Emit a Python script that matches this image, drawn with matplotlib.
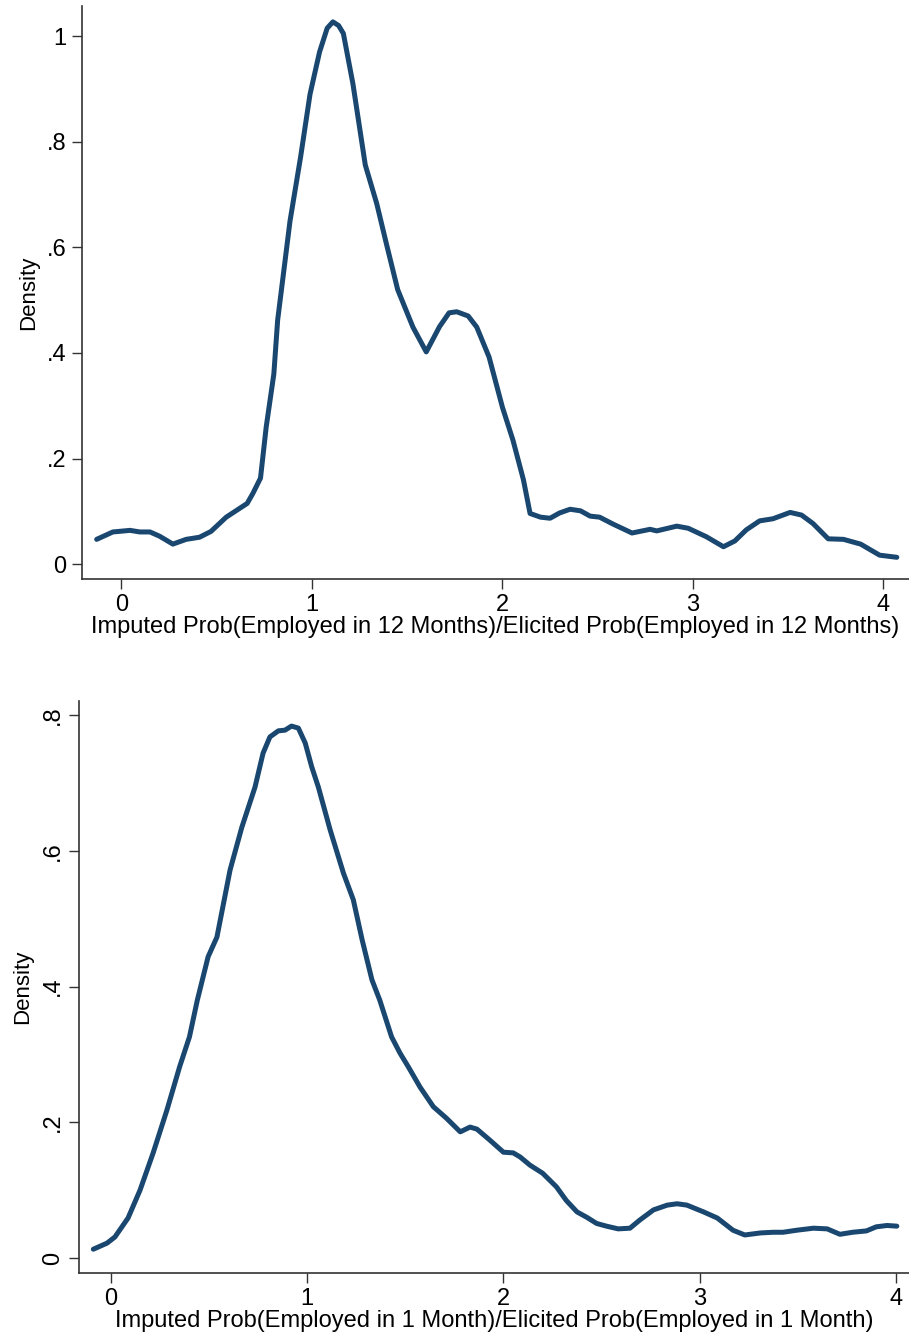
import numpy as np
import matplotlib
matplotlib.use('Agg')
import matplotlib.pyplot as plt

plt.rcParams['font.family'] = ['Liberation Sans', 'DejaVu Sans']

# Density of imputed/elicited ratio, 12 months
x12 = [-0.13, -0.045, 0.045, 0.097, 0.15, 0.2, 0.27, 0.34, 0.41, 0.47, 0.55, 0.66,
       0.69, 0.73, 0.76, 0.8, 0.82, 0.885, 0.94, 0.99, 1.04, 1.08, 1.11, 1.14, 1.165,
       1.215, 1.28, 1.34, 1.39, 1.45, 1.53, 1.6, 1.67, 1.72, 1.76, 1.82, 1.865,
       1.93, 2.0, 2.055, 2.11, 2.145, 2.2, 2.25, 2.3, 2.355, 2.41, 2.46, 2.51, 2.58,
       2.68, 2.775, 2.81, 2.915, 2.975, 3.07, 3.16, 3.22, 3.28, 3.35, 3.42, 3.51,
       3.57, 3.63, 3.71, 3.79, 3.88, 3.98, 4.07]
d12 = [0.047, 0.061, 0.064, 0.061, 0.061, 0.053, 0.038, 0.047, 0.051, 0.062, 0.089,
       0.115, 0.134, 0.163, 0.26, 0.36, 0.462, 0.65, 0.77, 0.89, 0.97, 1.015, 1.027,
       1.02, 1.005, 0.91, 0.756, 0.683, 0.608, 0.52, 0.449, 0.402, 0.45, 0.476,
       0.478, 0.47, 0.449, 0.392, 0.297, 0.235, 0.16, 0.096, 0.089, 0.087, 0.097,
       0.104, 0.101, 0.091, 0.089, 0.076, 0.059, 0.066, 0.063, 0.072, 0.068, 0.052,
       0.033, 0.044, 0.065, 0.082, 0.086, 0.098, 0.093, 0.077, 0.048, 0.047, 0.038,
       0.017, 0.013]

# Density of imputed/elicited ratio, 1 month
x1 = [-0.09, -0.02, 0.02, 0.087, 0.148, 0.215, 0.285, 0.35, 0.4, 0.44, 0.495,
      0.54, 0.607, 0.667, 0.734, 0.775, 0.81, 0.853, 0.887, 0.92, 0.955, 0.99,
      1.023, 1.057, 1.117, 1.185, 1.235, 1.28, 1.33, 1.37, 1.43, 1.473, 1.515,
      1.575, 1.643, 1.71, 1.78, 1.83, 1.865, 1.93, 2.0, 2.05, 2.085, 2.135, 2.2,
      2.27, 2.32, 2.375, 2.425, 2.475, 2.525, 2.585, 2.645, 2.695, 2.765, 2.835,
      2.885, 2.935, 3.02, 3.09, 3.17, 3.23, 3.31, 3.375, 3.425, 3.495, 3.58, 3.65,
      3.715, 3.78, 3.85, 3.9, 3.955, 4.005]
d1 = [0.013, 0.022, 0.031, 0.059, 0.1, 0.155, 0.218, 0.282, 0.326, 0.38, 0.444,
      0.473, 0.572, 0.635, 0.694, 0.744, 0.768, 0.777, 0.778, 0.784, 0.781, 0.759,
      0.724, 0.694, 0.631, 0.567, 0.528, 0.469, 0.41, 0.38, 0.326, 0.302, 0.282,
      0.252, 0.223, 0.206, 0.186, 0.193, 0.19, 0.174, 0.156, 0.155, 0.149, 0.137,
      0.125, 0.105, 0.085, 0.068, 0.06, 0.051, 0.047, 0.043, 0.044, 0.056, 0.071,
      0.078, 0.08, 0.078, 0.068, 0.059, 0.041, 0.034, 0.037, 0.038, 0.038, 0.041,
      0.044, 0.043, 0.035, 0.038, 0.04, 0.046, 0.048, 0.047]

xticks = [0, 1, 2, 3, 4]
yticks12 = [0, 0.2, 0.4, 0.6, 0.8, 1.0]
ylabels12 = ['0', '.2', '.4', '.6', '.8', '1']
yticks1 = [0, 0.2, 0.4, 0.6, 0.8]
ylabels1 = ['0', '.2', '.4', '.6', '.8']

line_color = '#1a476f'

fig = plt.figure(figsize=(9.09, 13.38), dpi=100)
ax1 = fig.add_axes([0.0902, 0.5673, 0.9098, 0.4282])
ax2 = fig.add_axes([0.0869, 0.0486, 0.9131, 0.4275])

def style(ax, xlabel):
    for s in ['top', 'right']:
        ax.spines[s].set_visible(False)
    for s in ['left', 'bottom']:
        ax.spines[s].set_color('#333333')
        ax.spines[s].set_linewidth(1.2)
    ax.tick_params(direction='out', length=7, width=1.0, color='#333333',
                   labelsize=17, pad=4)
    ax.set_xticks(xticks)
    ax.set_xlabel(xlabel, fontsize=17, labelpad=0)
    ax.set_ylabel('Density', fontsize=16, labelpad=6)

ax1.plot(x12, d12, color=line_color, lw=3.6, solid_joinstyle='round', solid_capstyle='round')
style(ax1, 'Imputed Prob(Employed in 12 Months)/Elicited Prob(Employed in 12 Months)')
ax1.set_xlim(-0.207, 4.134)
ax1.set_ylim(-0.028, 1.057)
ax1.set_yticks(yticks12)
ax1.set_yticklabels(ylabels12)

ax2.plot(x1, d1, color=line_color, lw=3.6, solid_joinstyle='round', solid_capstyle='round')
style(ax2, 'Imputed Prob(Employed in 1 Month)/Elicited Prob(Employed in 1 Month)')
ax2.set_xlim(-0.163, 4.067)
ax2.set_ylim(-0.022, 0.821)
ax2.set_yticks(yticks1)
ax2.set_yticklabels(ylabels1, rotation=90, va='center')

fig.savefig('out.png', dpi=100)
